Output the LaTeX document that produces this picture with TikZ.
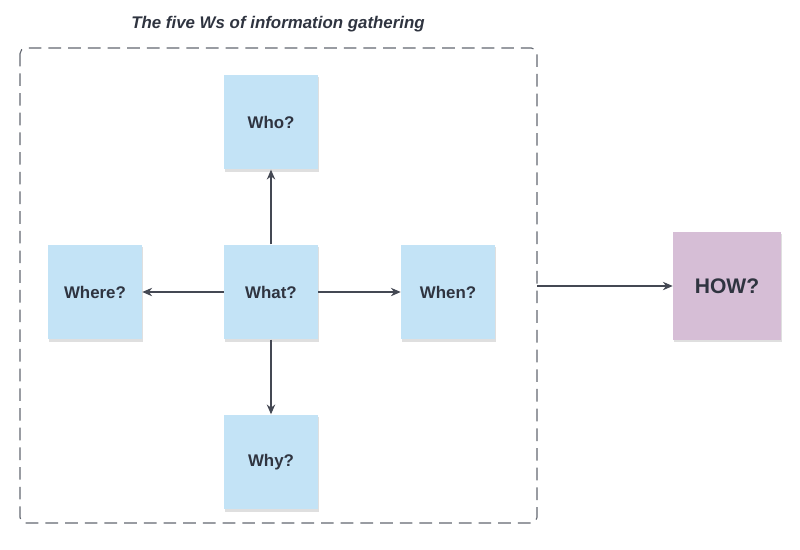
\documentclass[tikz,border=0pt]{standalone}
\usepackage{fontspec}
\setmainfont{Liberation Sans}
\usetikzlibrary{positioning,arrows.meta,shadows}
\definecolor{sticky}{HTML}{C3E3F6}
\definecolor{howsticky}{HTML}{D6BED6}
\definecolor{ink}{HTML}{2F3440}
\begin{document}
\begin{tikzpicture}[x=0.025cm,y=-0.025cm,
  note/.style={rectangle, fill=sticky, minimum width=2.35cm, minimum height=2.37cm,
    font=\bfseries\fontsize{12}{14}\selectfont, text=ink,
    drop shadow={shadow xshift=1pt, shadow yshift=-1.5pt, opacity=0.25}},
  link/.style={-{Stealth[length=7pt,width=6pt]}, thick, draw=ink!90}]
\useasboundingbox (0,0) rectangle (800,549);

\draw[dashed, dash pattern=on 9pt off 5pt, thick, draw=ink!75, rounded corners=4pt]
      (20,48) rectangle (537,523);
\node[font=\bfseries\itshape\fontsize{12}{14}\selectfont, text=ink] (title) at (278,24)
      {The five Ws of information gathering};
\coordinate (boxedge) at (537,286);

\node[note] (what) at (271,292) {What?};
\node[note] (who) at (271,122) {Who?};
\node[note] (where) at (95,292) {Where?};
\node[note] (when) at (448,292) {When?};
\node[note] (why) at (271,462) {Why?};
\node[note, fill=howsticky, minimum width=2.7cm, minimum height=2.7cm,
      font=\bfseries\fontsize{15}{18}\selectfont] (how) at (727,286) {HOW?};

\draw[link] (what) -- (who);
\draw[link] (what) -- (where);
\draw[link] (what) -- (when);
\draw[link] (what) -- (why);
\draw[link] (boxedge) -- (how.west |- boxedge);
\end{tikzpicture}
\end{document}
